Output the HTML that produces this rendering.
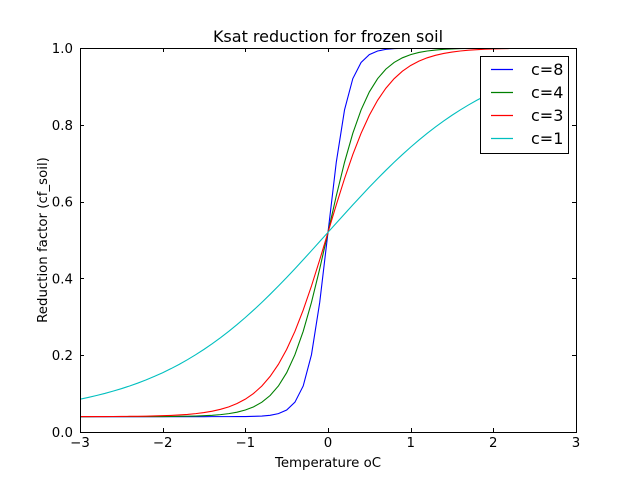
<!DOCTYPE html>
<html><head><meta charset="utf-8"><style>
html,body{margin:0;padding:0;background:#fff;}
svg{display:block;font-family:"DejaVu Sans","Liberation Sans",sans-serif;}
</style></head><body>
<svg id="s" width="640" height="480" viewBox="0 0 640 480" xmlns="http://www.w3.org/2000/svg">
<rect width="640" height="480" fill="#fff"/>
<defs><clipPath id="cp"><rect x="80" y="48" width="496" height="384"/></clipPath></defs>
<g id="curves" clip-path="url(#cp)" fill="none" stroke-width="1.1"></g>
<rect x="80.5" y="48.5" width="496" height="384" fill="none" stroke="#000" stroke-width="1"/>
<g id="ticks" stroke="#000" stroke-width="1"></g>
<g font-size="13.33" fill="#000">
<text x="80" y="447" text-anchor="middle">−3</text>
<text x="162.7" y="447" text-anchor="middle">−2</text>
<text x="245.3" y="447" text-anchor="middle">−1</text>
<text x="328" y="447" text-anchor="middle">0</text>
<text x="410.7" y="447" text-anchor="middle">1</text>
<text x="493.3" y="447" text-anchor="middle">2</text>
<text x="576" y="447" text-anchor="middle">3</text>
<text x="73" y="437" text-anchor="end">0.0</text>
<text x="73" y="360.2" text-anchor="end">0.2</text>
<text x="73" y="283.4" text-anchor="end">0.4</text>
<text x="73" y="206.6" text-anchor="end">0.6</text>
<text x="73" y="129.8" text-anchor="end">0.8</text>
<text x="73" y="53" text-anchor="end">1.0</text>
<text x="328" y="467" text-anchor="middle">Temperature oC</text>
<text transform="translate(47,240) rotate(-90)" text-anchor="middle">Reduction factor (cf_soil)</text>
</g>
<text x="328" y="42" text-anchor="middle" font-size="16">Ksat reduction for frozen soil</text>
<rect x="480.5" y="56.5" width="88" height="97" fill="#fff" stroke="#000" stroke-width="1"/>
<g stroke-width="1.2">
<line x1="491" y1="69.5" x2="513" y2="69.5" stroke="#0000ff"/>
<line x1="491" y1="92.5" x2="513" y2="92.5" stroke="#008000"/>
<line x1="491" y1="115.5" x2="513" y2="115.5" stroke="#ff0000"/>
<line x1="491" y1="138.5" x2="513" y2="138.5" stroke="#00bfbf"/>
</g>
<g font-size="16" fill="#000">
<text x="531" y="75">c=8</text>
<text x="531" y="98">c=4</text>
<text x="531" y="121">c=3</text>
<text x="531" y="144">c=1</text>
</g>
</svg>
<script>
(function(){
var NS="http://www.w3.org/2000/svg";
var g=document.getElementById("curves");
var series=[[8,"#0000ff"],[4,"#008000"],[3,"#ff0000"],[1,"#00bfbf"]];
function px(x){return 80+(x+3)*496/6;}
function py(y){return 432-y*384;}
series.forEach(function(s){
  var pts=[];
  for(var k=0;k<60;k++){
    var T=-3+k*0.1;
    var v=0.04+0.96/(1+Math.exp(-s[0]*T));
    pts.push(px(T).toFixed(2)+","+py(v).toFixed(2));
  }
  var p=document.createElementNS(NS,"polyline");
  p.setAttribute("points",pts.join(" "));
  p.setAttribute("stroke",s[1]);
  g.appendChild(p);
});
var t=document.getElementById("ticks");
function ln(x1,y1,x2,y2){var l=document.createElementNS(NS,"line");l.setAttribute("x1",x1);l.setAttribute("y1",y1);l.setAttribute("x2",x2);l.setAttribute("y2",y2);t.appendChild(l);}
for(var i=0;i<=6;i++){
  var x=Math.round(80+i*496/6)+0.5;
  ln(x,432,x,428);ln(x,48,x,52);
}
for(var j=0;j<=5;j++){
  var y=Math.round(432-j*76.8)+0.5;
  ln(80,y,84,y);ln(576,y,572,y);
}
})();
</script>
</body></html>
